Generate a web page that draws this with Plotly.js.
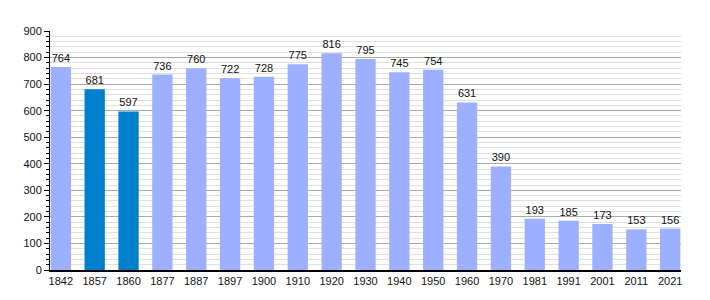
<!DOCTYPE html>
<html><head><meta charset="utf-8">
<script src="https://cdn.plot.ly/plotly-3.0.1.min.js"></script>
<style>html,body{margin:0;padding:0;background:#fff;}#chart{width:710px;height:300px;}</style>
</head><body><div id="chart"></div>
<script>
const years = ["1842","1857","1860","1877","1887","1897","1900","1910","1920","1930","1940","1950","1960","1970","1981","1991","2001","2011","2021"];
const population = [764,681,597,736,760,722,728,775,816,795,745,754,631,390,193,185,173,153,156];
const highlighted = ["1857","1860"];
const colors = years.map(y => highlighted.includes(y) ? "#007fcc" : "#9cb0ff");

Plotly.newPlot("chart", [{
  type: "bar",
  x: years,
  y: population,
  width: 0.6,
  marker: {color: colors, line: {width: 0}},
  text: population.map(String),
  textposition: "outside",
  cliponaxis: false,
  textfont: {family: "Liberation Sans, Arial, sans-serif", size: 11, color: "#111"},
  hoverinfo: "none"
}], {
  width: 710, height: 300,
  margin: {l: 50, r: 29, t: 31, b: 30},
  paper_bgcolor: "#fff", plot_bgcolor: "#fff",
  showlegend: false,
  font: {family: "Liberation Sans, Arial, sans-serif", size: 11, color: "#111"},
  xaxis: {type: "category", range: [-0.32, years.length - 1 + 0.32], showline: true, linecolor: "#000", linewidth: 1.5, ticks: "", showgrid: false, zeroline: false, tickfont: {size: 11}},
  yaxis: {range: [0, 900], dtick: 100, showline: true, linecolor: "#000", linewidth: 1, ticks: "outside", ticklen: 5, tickcolor: "#000",
    showgrid: true, gridcolor: "#aaaaaa", gridwidth: 1, zeroline: false, tickfont: {size: 11},
    minor: {dtick: 20, showgrid: true, gridcolor: "#e0e0e0", gridwidth: 1, ticks: "outside", ticklen: 3, tickcolor: "#000"}}
}, {staticPlot: true});
</script></body></html>
